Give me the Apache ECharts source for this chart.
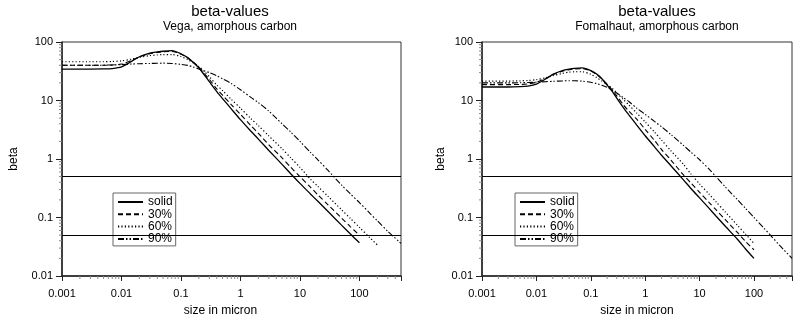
<!DOCTYPE html>
<html>
<head>
<meta charset="utf-8">
<script src="https://cdn.jsdelivr.net/npm/echarts@6/dist/echarts.min.js"></script>
<style>
  html, body { margin: 0; padding: 0; background: #fff; }
  #chart { width: 795px; height: 322px; }
</style>
</head>
<body>
<div id="chart"></div>
<script>
// particle sizes (micron) shared by all curves
const sizes = [0.001, 0.003, 0.005, 0.007, 0.01, 0.015, 0.02, 0.03, 0.04, 0.05, 0.07, 0.1, 0.13, 0.16, 0.2, 0.25, 0.3, 0.4, 0.5, 0.7, 1, 1.5, 2, 3, 5, 7, 10, 15, 20, 30, 50, 70, 100, 150, 200, 300, 500];

// Vega, amorphous carbon
const vegaSolid = [34.5, 34.5, 34.6, 35.2, 37.5, 47, 56, 64.5, 67.5, 69.5, 71, 63, 54, 45, 36, 27, 21, 14.2, 10.8, 7.2, 4.7, 2.98, 2.19, 1.4, 0.81, 0.56, 0.383, 0.253, 0.189, 0.125, 0.074, 0.0526, 0.037, null, null, null, null];
const vega30 = [40, 40, 40, 40.5, 42, 49, 56, 63, 66, 68, 69, 62, 53, 45.5, 37, 28.5, 23, 15.8, 12.3, 8.5, 5.8, 3.72, 2.75, 1.75, 1.05, 0.722, 0.5, 0.33, 0.245, 0.163, 0.098, 0.07, 0.05, null, null, null, null];
const vega60 = [46, 46, 46, 46.5, 47.5, 51, 54.5, 58.5, 60, 61, 61, 56.5, 50, 44, 38, 31, 25.5, 18.3, 14.8, 10.5, 7.4, 4.9, 3.72, 2.48, 1.5, 1.05, 0.72, 0.453, 0.34, 0.227, 0.136, 0.097, 0.068, 0.045, 0.034, null, null];
const vega90 = [40, 40, 40.2, 40.5, 41, 42, 42.5, 43, 43.3, 43.5, 43, 41.5, 39.8, 37.5, 34.5, 32, 30, 26.5, 23.5, 19.5, 15.3, 11.3, 9.2, 6.6, 4.0, 2.9, 2.0, 1.3, 0.97, 0.63, 0.36, 0.255, 0.18, 0.118, 0.088, 0.058, 0.036];

// Fomalhaut, amorphous carbon
const fomSolid = [17, 17, 17.2, 17.6, 19, 23.5, 28, 32.5, 34.5, 35.5, 36, 32.5, 28, 23.5, 18.3, 14.2, 11, 7.5, 5.7, 3.8, 2.5, 1.6, 1.16, 0.76, 0.445, 0.31, 0.216, 0.143, 0.106, 0.07, 0.042, 0.029, 0.02, null, null, null, null];
const fom30 = [18.7, 18.7, 18.8, 19.2, 20.5, 24, 27.5, 31.5, 33.5, 34.5, 35, 32, 27.5, 23.5, 18.8, 15, 12, 8.4, 6.6, 4.8, 3.2, 2.05, 1.45, 0.95, 0.54, 0.385, 0.27, 0.18, 0.136, 0.091, 0.055, 0.039, 0.028, null, null, null, null];
const fom60 = [21.5, 21.5, 21.7, 22, 22.7, 24.5, 26.5, 29, 30.5, 31, 31, 28, 24.5, 21.5, 18.7, 16, 13.5, 10.3, 8.4, 6.1, 4.3, 2.85, 2.1, 1.37, 0.82, 0.55, 0.375, 0.25, 0.186, 0.123, 0.073, 0.052, 0.036, null, null, null, null];
const fom90 = [20, 20, 20.1, 20.3, 20.6, 21, 21.3, 21.6, 21.8, 21.8, 21.4, 20.5, 19.4, 18.2, 16.8, 15, 13.4, 11.1, 9.6, 7.4, 5.8, 4.35, 3.55, 2.6, 1.72, 1.3, 0.97, 0.67, 0.5, 0.33, 0.2, 0.143, 0.1, 0.067, 0.05, 0.033, 0.02];

// reference lines
const betaLines = [0.5, 0.05];

const seriesNames = ['solid', '30%', '60%', '90%'];
const xTickLabels = ['0.001', '0.01', '0.1', '1', '10', '100'];
const yTickLabels = ['0.01', '0.1', '1', '10', '100'];
const minorSteps = [2, 3, 4, 5, 6, 7, 8, 9];

const FONT = 'Liberation Sans';
const X_MIN = 0.001, X_MAX = 500, Y_MIN = 0.01, Y_MAX = 100;

const lineTypes = [
    { type: 'solid', width: 1.3 },
    { type: [5, 3], width: 1.1 },
    { type: [1.2, 2.2], width: 1.2 },
    { type: [6, 2, 1.5, 2, 1.5, 2], width: 1.1 }
];

function pairs(values) {
    const out = [];
    values.forEach((v, i) => {
        if (v != null) out.push([sizes[i], v]);
    });
    return out;
}

function decadeLabel(labels, minExp) {
    return function (value) {
        const lg = Math.log10(value);
        const e = Math.round(lg);
        if (Math.abs(lg - e) > 1e-6) return '';
        return labels[e - minExp] || '';
    };
}

// minor log ticks (2..9 per decade)
const xMinor = [];
for (let e = -3; e <= 2; e++) {
    minorSteps.forEach((k) => {
        const v = k * Math.pow(10, e);
        if (v < X_MAX) xMinor.push([v, Y_MIN]);
    });
}
const yMinor = [];
for (let e = -2; e <= 1; e++) {
    minorSteps.forEach((k) => yMinor.push([X_MIN, k * Math.pow(10, e)]));
}

function minorTickSeries(idx, data, dir) {
    return {
        type: 'custom',
        xAxisIndex: idx,
        yAxisIndex: idx,
        silent: true,
        clip: false,
        z: 5,
        data: data,
        renderItem: function (params, api) {
            const p = api.coord([api.value(0), api.value(1)]);
            const shape = dir === 'x'
                ? { x1: p[0], y1: p[1], x2: p[0], y2: p[1] + 3 }
                : { x1: p[0], y1: p[1], x2: p[0] - 3, y2: p[1] };
            return { type: 'line', shape: shape, style: { stroke: '#888', lineWidth: 1 } };
        }
    };
}

function panelSeries(idx, curves) {
    const list = curves.map((vals, i) => {
        const s = {
            name: seriesNames[i],
            type: 'line',
            xAxisIndex: idx,
            yAxisIndex: idx,
            symbol: 'none',
            smooth: 0.25,
            data: pairs(vals),
            lineStyle: { color: '#000', width: lineTypes[i].width, type: lineTypes[i].type },
            itemStyle: { color: '#000' }
        };
        if (i === 0) {
            s.markLine = {
                silent: true,
                symbol: ['none', 'none'],
                label: { show: false },
                lineStyle: { color: '#000', width: 1.2, type: 'solid' },
                data: betaLines.map((b) => ({ yAxis: b }))
            };
        }
        return s;
    });
    list.push(minorTickSeries(idx, xMinor, 'x'));
    list.push(minorTickSeries(idx, yMinor, 'y'));
    return list;
}

function xAxisFor(idx) {
    return {
        type: 'log',
        logBase: 10,
        gridIndex: idx,
        min: X_MIN,
        max: X_MAX,
        name: 'size in micron',
        nameLocation: 'middle',
        nameGap: 29,
        nameTextStyle: { fontFamily: FONT, fontSize: 12, color: '#000', padding: idx === 0 ? [0, 22, 0, 0] : 0 },
        axisLine: { lineStyle: { color: '#222', width: 1.5 } },
        axisTick: { length: 5, lineStyle: { color: '#222' } },
        axisLabel: { fontFamily: FONT, fontSize: 11, color: '#000', margin: 12, formatter: decadeLabel(xTickLabels, -3) },
        splitLine: { show: false }
    };
}

function yAxisFor(idx) {
    return {
        type: 'log',
        logBase: 10,
        gridIndex: idx,
        min: Y_MIN,
        max: Y_MAX,
        name: 'beta',
        nameLocation: 'middle',
        nameGap: idx === 0 ? 42 : 35,
        nameTextStyle: { fontFamily: FONT, fontSize: 12, color: '#000' },
        axisLine: { lineStyle: { color: '#222', width: 1.5 } },
        axisTick: { length: 6, lineStyle: { color: '#222' } },
        axisLabel: { fontFamily: FONT, fontSize: 11, color: '#000', margin: 9, formatter: decadeLabel(yTickLabels, -2) },
        splitLine: { show: false }
    };
}

function legendFor(left) {
    return {
        data: seriesNames,
        orient: 'vertical',
        left: left,
        top: 193,
        padding: [3, 3, 1, 4],
        itemWidth: 25,
        itemHeight: 8,
        itemGap: 0.3,
        selectedMode: false,
        borderColor: '#666',
        borderWidth: 1,
        backgroundColor: '#fff',
        itemStyle: { opacity: 0 },
        textStyle: { fontFamily: FONT, fontSize: 12, color: '#000', lineHeight: 12 }
    };
}

const chart = echarts.init(document.getElementById('chart'), null, { renderer: 'canvas' });

chart.setOption({
    animation: false,
    backgroundColor: '#fff',
    title: [
        {
            text: 'beta-values', subtext: 'Vega, amorphous carbon',
            left: 230, top: 4, textAlign: 'center', itemGap: 2, padding: 0,
            textStyle: { fontFamily: FONT, fontSize: 15, fontWeight: 'normal', color: '#000' },
            subtextStyle: { fontFamily: FONT, fontSize: 12, color: '#000' }
        },
        {
            text: 'beta-values', subtext: 'Fomalhaut, amorphous carbon',
            left: 657, top: 4, textAlign: 'center', itemGap: 2, padding: 0,
            textStyle: { fontFamily: FONT, fontSize: 15, fontWeight: 'normal', color: '#000' },
            subtextStyle: { fontFamily: FONT, fontSize: 12, color: '#000' }
        }
    ],
    legend: [legendFor(113), legendFor(515)],
    grid: [
        { left: 62, top: 42, width: 339, height: 236, show: true, borderColor: '#333', borderWidth: 1, backgroundColor: 'transparent' },
        { left: 482, top: 42, width: 333, height: 236, show: true, borderColor: '#333', borderWidth: 1, backgroundColor: 'transparent' }
    ],
    xAxis: [xAxisFor(0), xAxisFor(1)],
    yAxis: [yAxisFor(0), yAxisFor(1)],
    series: [
        ...panelSeries(0, [vegaSolid, vega30, vega60, vega90]),
        ...panelSeries(1, [fomSolid, fom30, fom60, fom90])
    ]
});
</script>
</body>
</html>
